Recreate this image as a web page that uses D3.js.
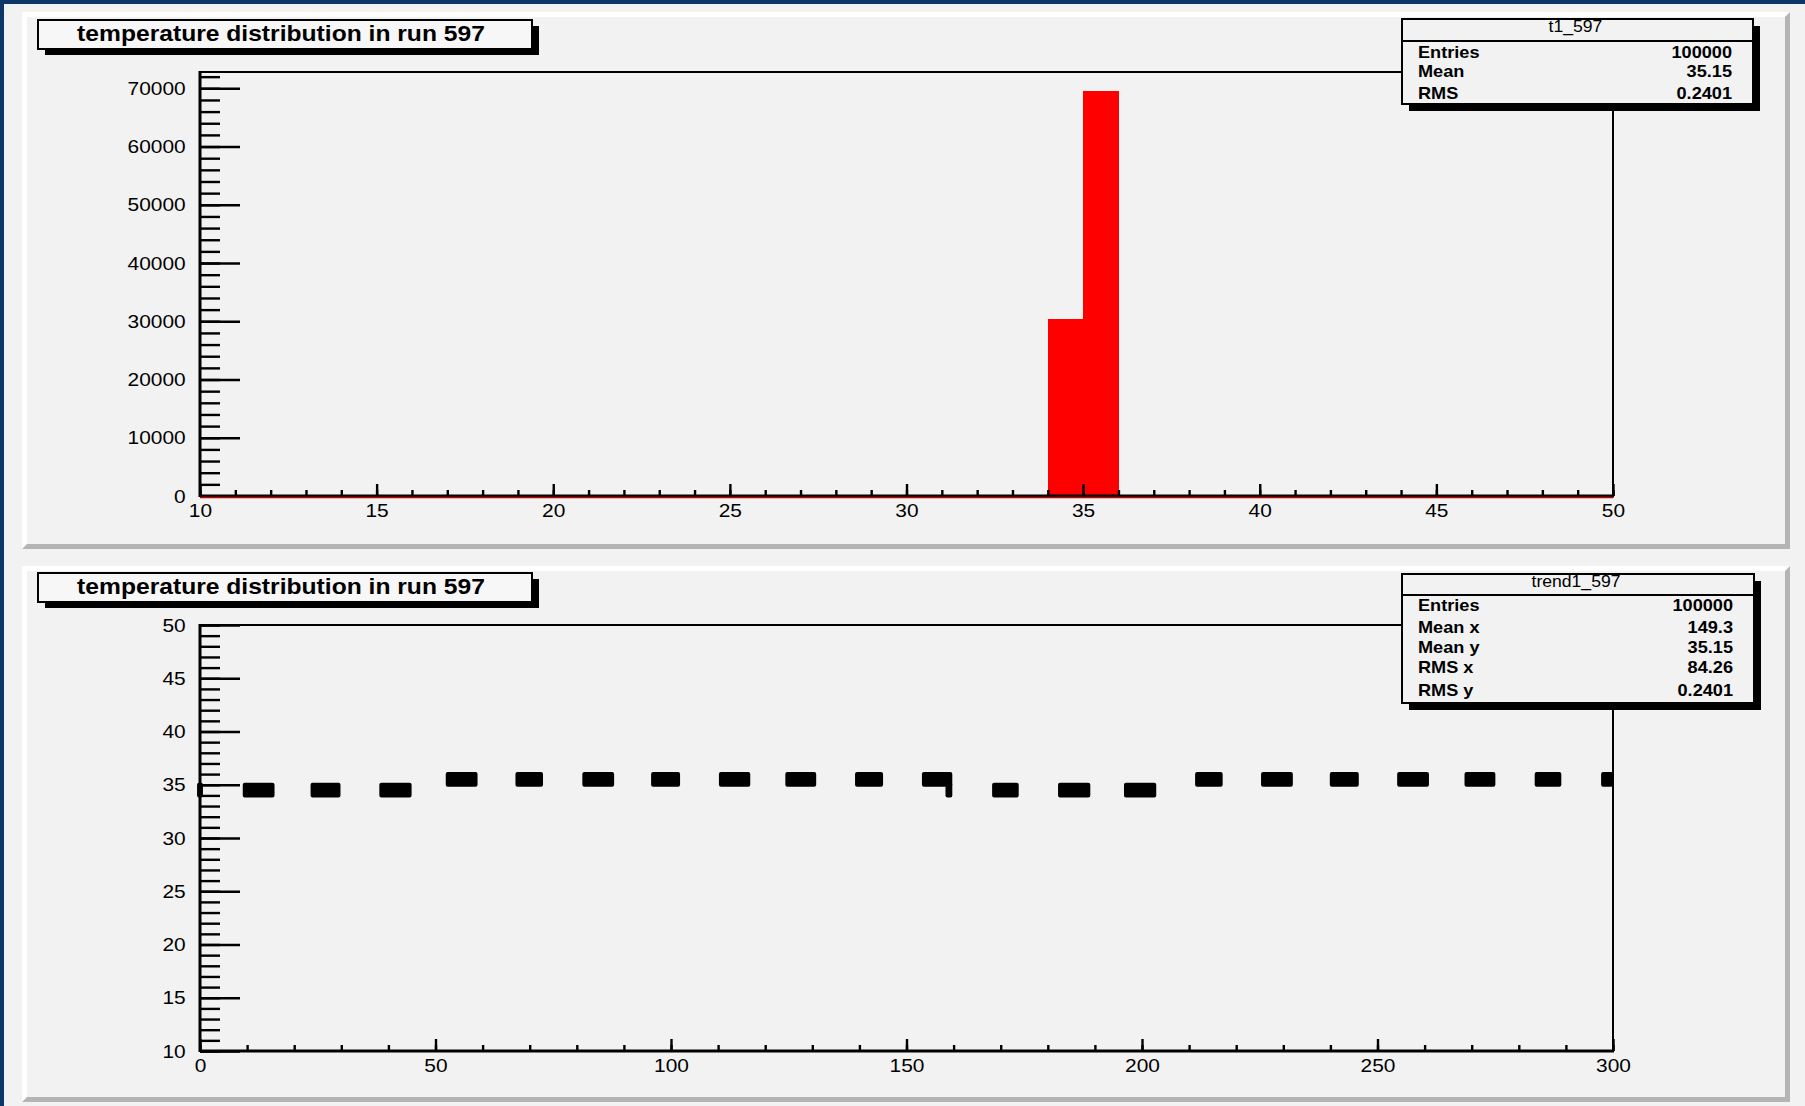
<!DOCTYPE html>
<html>
<head>
<meta charset="utf-8">
<script src="https://cdn.jsdelivr.net/npm/d3@7"></script>
<style>
  html, body { margin: 0; padding: 0; background: #f2f2f2; }
  svg { display: block; }
  text { font-family: "Liberation Sans", Arial, Helvetica, sans-serif; fill: #000; }
</style>
</head>
<body>
<svg id="canvas" width="1805" height="1106"></svg>
<script>
// ---- temperature histogram t1_597 (non-empty bins only, bin width 1) ----
const histTitle = "temperature distribution in run 597";
const histBinLow = [34, 35];
const histCounts = [30400, 69600];
const histXTicks = [10, 15, 20, 25, 30, 35, 40, 45, 50];
const histYTicks = [0, 10000, 20000, 30000, 40000, 50000, 60000, 70000];
const histStatName = "t1_597";
const histStatLabels = ["Entries", "Mean", "RMS"];
const histStatValues = ["100000", "35.15", "0.2401"];

// ---- temperature trend trend1_597: filled cells (x range, 1-degree y bin) ----
const trendTitle = "temperature distribution in run 597";
const trendXStart = [-0.2, 9.5, 23.9, 38.5, 52.6, 67.4, 81.6, 96.2, 110.6, 124.7, 139.5, 153.7, 158.7,
                     168.6, 182.6, 196.6, 211.7, 225.7, 240.3, 254.6, 268.9, 283.8, 297.9];
const trendXEnd   = [0.2, 15.4, 29.4, 44.5, 58.5, 72.4, 87.5, 101.5, 116.4, 130.4, 144.6, 159.3, 159.3,
                     173.4, 188.6, 202.6, 216.7, 231.6, 245.6, 260.5, 274.6, 288.6, 299.6];
const trendYBin   = [34, 34, 34, 34, 35, 35, 35, 35, 35, 35, 35, 35, 34,
                     34, 34, 34, 35, 35, 35, 35, 35, 35, 35];
const trendXTicks = [0, 50, 100, 150, 200, 250, 300];
const trendYTicks = [10, 15, 20, 25, 30, 35, 40, 45, 50];
const trendStatName = "trend1_597";
const trendStatLabels = ["Entries", "Mean x", "Mean y", "RMS x", "RMS y"];
const trendStatValues = ["100000", "149.3", "35.15", "84.26", "0.2401"];

// ---- page layout ----
const BG = "#f2f2f2";
const SX = 1.1;              // horizontal stretch of the lettering
const svg = d3.select("#canvas");

svg.append("rect").attr("width", 1805).attr("height", 1106).attr("fill", "#0c3768");
svg.append("rect").attr("x", 4).attr("y", 4).attr("width", 1801).attr("height", 1102).attr("fill", BG);

function pad(x, y, w, h) {
  const b = 5;
  const g = svg.append("g");
  g.append("rect").attr("x", x).attr("y", y).attr("width", w).attr("height", h).attr("fill", BG);
  // raised bevel: light top/left, dark bottom/right
  g.append("polygon").attr("fill", "#ffffff")
    .attr("points", [[x, y], [x + w, y], [x + w - b, y + b], [x + b, y + b], [x + b, y + h - b], [x, y + h]].join(" "));
  g.append("polygon").attr("fill", "#b4b4b4")
    .attr("points", [[x + w, y], [x + w, y + h], [x, y + h], [x + b, y + h - b], [x + w - b, y + h - b], [x + w - b, y + b]].join(" "));
}

function label(g, x, y, str, o = {}) {
  return g.append("text")
    .attr("transform", `translate(${x},${y}) scale(${o.sx || SX},1)`)
    .attr("text-anchor", o.anchor || "start")
    .attr("dominant-baseline", "central")
    .attr("font-size", o.size || 18)
    .attr("font-weight", o.weight || "normal")
    .text(str);
}

function titleBox(x, y, w, h, str) {
  const g = svg.append("g");
  g.append("rect").attr("x", x + 7).attr("y", y + 6).attr("width", w).attr("height", h).attr("fill", "#000");
  g.append("rect").attr("x", x).attr("y", y).attr("width", w).attr("height", h)
    .attr("fill", "#f7f7f7").attr("stroke", "#000").attr("stroke-width", 2);
  label(g, x + w / 2 - 4, y + h / 2 - 1, str, { anchor: "middle", size: 22, weight: "bold", sx: 1.12 });
}

function statBox(x, y, w, h, headH, name, labels, values, rowYs) {
  const g = svg.append("g");
  g.append("rect").attr("x", x + 7).attr("y", y + 7).attr("width", w).attr("height", h).attr("fill", "#000");
  g.append("rect").attr("x", x).attr("y", y).attr("width", w).attr("height", h)
    .attr("fill", BG).attr("stroke", "#000").attr("stroke-width", 2);
  g.append("line").attr("x1", x).attr("x2", x + w).attr("y1", y + headH).attr("y2", y + headH)
    .attr("stroke", "#000").attr("stroke-width", 2);
  label(g, x + w / 2 - 2, y + 8, name, { anchor: "middle", size: 16 });
  labels.forEach((s, i) => {
    label(g, x + 16, rowYs[i], s, { size: 16.5, weight: "bold" });
    label(g, x + w - 21, rowYs[i], values[i], { size: 16.5, weight: "bold", anchor: "end" });
  });
}

// draws a ROOT-style frame with inward major/minor ticks
function axes(frame, xs, ys, xMajor, xMinor, yMajor, yMinor, fmtY) {
  const g = svg.append("g");
  const xMaj = d3.axisBottom(xs).tickValues(xMajor).tickSize(-12).tickPadding(8).tickFormat(d3.format("d"));
  const xMin = d3.axisBottom(xs).tickValues(xMinor).tickSize(-6).tickFormat("");
  const yMaj = d3.axisLeft(ys).tickValues(yMajor).tickSize(-40).tickPadding(13).tickFormat(fmtY);
  const yMin = d3.axisLeft(ys).tickValues(yMinor).tickSize(-20).tickFormat("");

  g.append("g").attr("transform", `translate(0,${frame.y1})`).call(xMin);
  const gx = g.append("g").attr("transform", `translate(0,${frame.y1})`).call(xMaj);
  g.append("g").attr("transform", `translate(${frame.x0},0)`).call(yMin);
  const gy = g.append("g").attr("transform", `translate(${frame.x0},0)`).call(yMaj);
  g.selectAll(".domain").remove();
  g.selectAll(".tick line").attr("stroke", "#000").attr("stroke-width", 2.4);
  g.selectAll(".tick text")
    .attr("font-family", "'Liberation Sans', Arial, sans-serif")
    .attr("font-size", 19).attr("fill", "#111");
  gx.selectAll(".tick text").attr("transform", `scale(${SX},1)`);
  gy.selectAll(".tick text").attr("transform", `scale(${SX},1)`);

  // frame box
  g.append("line").attr("x1", frame.x0).attr("x2", frame.x1).attr("y1", frame.y0).attr("y2", frame.y0)
    .attr("stroke", "#000").attr("stroke-width", 2);
  g.append("line").attr("x1", frame.x1).attr("x2", frame.x1).attr("y1", frame.y0).attr("y2", frame.y1)
    .attr("stroke", "#000").attr("stroke-width", 2);
  g.append("line").attr("x1", frame.x0).attr("x2", frame.x1 + 1).attr("y1", frame.y1).attr("y2", frame.y1)
    .attr("stroke", "#000").attr("stroke-width", 3);
  g.append("line").attr("x1", frame.x0).attr("x2", frame.x0).attr("y1", frame.y0 - 1).attr("y2", frame.y1 + 1)
    .attr("stroke", "#000").attr("stroke-width", 3);
  return g;
}

// ---- top pad: histogram ----
pad(22, 12, 1768, 537);
const f1 = { x0: 200, x1: 1613, y0: 72, y1: 496 };
const histYMax = 72800;
const x1s = d3.scaleLinear().domain([histXTicks[0], histXTicks[histXTicks.length - 1]]).range([f1.x0, f1.x1]);
const y1s = d3.scaleLinear().domain([0, histYMax]).range([f1.y1, f1.y0]);

svg.append("g").attr("shape-rendering", "crispEdges")
  .selectAll("rect").data(histCounts).join("rect")
  .attr("x", (d, i) => x1s(histBinLow[i]))
  .attr("width", (d, i) => x1s(histBinLow[i] + 1) - x1s(histBinLow[i]) + 0.5)
  .attr("y", d => y1s(d))
  .attr("height", d => y1s(0) - y1s(d))
  .attr("fill", "#ff0000");

axes(f1, x1s, y1s,
  histXTicks, d3.range(10, 50.01, 1),
  histYTicks, d3.range(0, histYMax, 2000), d3.format("d"));

// histogram contour along the empty bins
const contour = [[x1s.domain()[0], 0]];
histBinLow.forEach((b, i) => { contour.push([b, 0], [b, histCounts[i]], [b + 1, histCounts[i]], [b + 1, 0]); });
contour.push([x1s.domain()[1], 0]);
svg.append("path")
  .attr("d", d3.line().x(d => x1s(d[0])).y(d => y1s(d[1]) + 1.5)(contour.filter(d => d[1] === 0)))
  .attr("fill", "none").attr("stroke", "#c00000").attr("stroke-width", 1.5);

titleBox(38, 20, 494, 29, histTitle);
statBox(1402, 19, 351, 85, 22, histStatName, histStatLabels, histStatValues, [52, 71, 93]);

// ---- bottom pad: trend ----
pad(22, 566, 1768, 536);
const f2 = { x0: 200, x1: 1613, y0: 625, y1: 1051 };
const x2s = d3.scaleLinear().domain([trendXTicks[0], trendXTicks[trendXTicks.length - 1]]).range([f2.x0, f2.x1]);
const y2s = d3.scaleLinear().domain([trendYTicks[0], trendYTicks[trendYTicks.length - 1]]).range([f2.y1, f2.y0]);

axes(f2, x2s, y2s,
  trendXTicks, d3.range(0, 300.01, 10),
  trendYTicks, d3.range(10, 50.01, 1), d3.format("d"));

svg.append("g").selectAll("rect").data(trendYBin).join("rect")
  .attr("x", (d, i) => x2s(trendXStart[i]))
  .attr("width", (d, i) => x2s(trendXEnd[i]) - x2s(trendXStart[i]))
  .attr("y", d => y2s(d + 1))
  .attr("height", d => y2s(d) - y2s(d + 1))
  .attr("fill", "#000").attr("stroke", "#000").attr("stroke-width", 4)
  .attr("stroke-linejoin", "round");

titleBox(38, 573, 494, 29, trendTitle);
statBox(1402, 574, 352, 129, 21, trendStatName, trendStatLabels, trendStatValues, [605, 627, 647, 667, 690]);
</script>
</body>
</html>
